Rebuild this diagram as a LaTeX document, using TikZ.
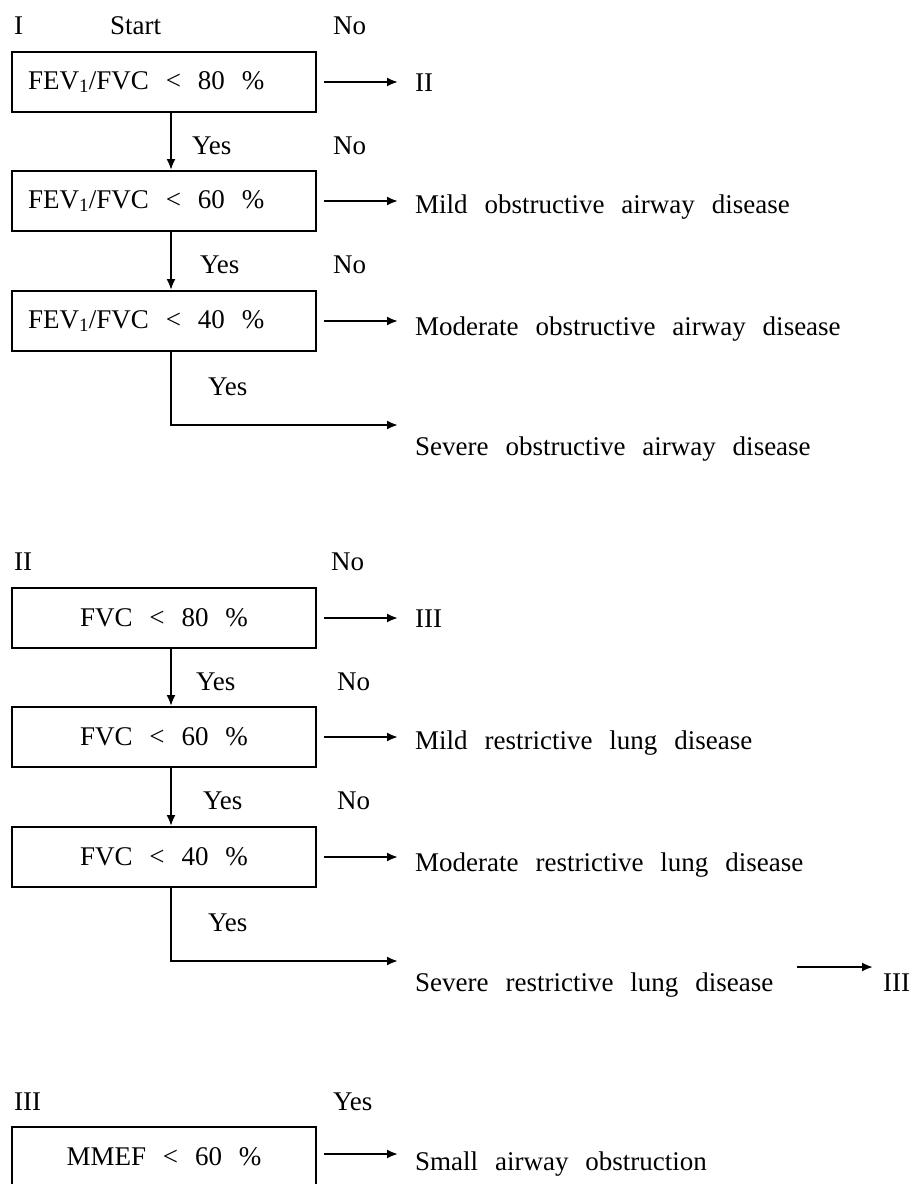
\documentclass[tikz,border=0pt]{standalone}
\usepackage{fontspec}
\setmainfont[WordSpace=2.5]{Liberation Serif}
\usetikzlibrary{arrows.meta}
\tikzset{
 testbox/.style={draw,line width=2pt,minimum width=304pt,minimum height=60pt,inner xsep=0pt},
 testboxl/.style={testbox,execute at begin node={\hbox to 272pt\bgroup},execute at end node={\hfil\egroup}},
 lbl/.style={anchor=base west,inner sep=0pt},
 arr/.style={-{Latex[length=11pt,width=9pt]},line width=2pt},
}
\begin{document}
\begin{tikzpicture}[x=1pt,y=-1pt,font=\fontsize{27}{32}\selectfont]
 \useasboundingbox (0,0) rectangle (911,1184);
 % I
 \begin{scope}
  \node[lbl] (hI) at (14,34) {I};
  \node[lbl] (start) at (110,34) {Start};
  \node[lbl] (noa) at (333,34) {No};
  \node[testboxl] (r80) at (164,82) {FEV\textsubscript{1}/FVC < 80 \%};
  \node[testboxl] (r60) at (164,201) {FEV\textsubscript{1}/FVC < 60 \%};
  \node[testboxl] (r40) at (164,321) {FEV\textsubscript{1}/FVC < 40 \%};
  \node[lbl] (toII) at (415,91) {II};
  \node[lbl] (mildo) at (415,213) {Mild obstructive airway disease};
  \node[lbl] (modo) at (415,335) {Moderate obstructive airway disease};
  \node[lbl] (sevo) at (415,455) {Severe obstructive airway disease};
  \node[lbl] (yesa) at (192,154) {Yes}; \node[lbl] (nob) at (333,154) {No};
  \node[lbl] (yesb) at (200,273) {Yes}; \node[lbl] (noc) at (333,273) {No};
  \node[lbl] (yesc) at (208,395) {Yes};
  \coordinate (ko) at (171,425);
  \draw[arr] ([xshift=7pt]r80.south) -- ([xshift=7pt]r60.north);
  \draw[arr] ([xshift=7pt]r60.south) -- ([xshift=7pt]r40.north);
  \draw[arr,shorten <=7pt,shorten >=17pt] (r80.east) -- (r80.east -| toII.west);
  \draw[arr,shorten <=7pt,shorten >=17pt] (r60.east) -- (r60.east -| mildo.west);
  \draw[arr,shorten <=7pt,shorten >=17pt] (r40.east) -- (r40.east -| modo.west);
  \draw[arr,shorten >=17pt] ([xshift=7pt]r40.south) -- (ko) -- (ko -| sevo.west);
 \end{scope}
 % II
 \begin{scope}[yshift=-536pt]
  \node[lbl] (hII) at (14,34) {II};
  \node[lbl] (nod) at (331,34) {No};
  \node[testbox] (v80) at (164,82) {FVC < 80 \%};
  \node[testbox] (v60) at (164,201) {FVC < 60 \%};
  \node[testbox] (v40) at (164,321) {FVC < 40 \%};
  \node[lbl] (toIII) at (415,91) {III};
  \node[lbl] (mildr) at (415,213) {Mild restrictive lung disease};
  \node[lbl] (modr) at (415,335) {Moderate restrictive lung disease};
  \node[lbl] (sevr) at (415,455) {Severe restrictive lung disease};
  \node[lbl] (nextIII) at (883,455) {III};
  \node[lbl] (yesd) at (196,154) {Yes}; \node[lbl] (noe) at (337,154) {No};
  \node[lbl] (yese) at (203,273) {Yes}; \node[lbl] (nof) at (337,273) {No};
  \node[lbl] (yesf) at (208,395) {Yes};
  \coordinate (kr) at (171,425);
  \coordinate (ks) at (797,431);
  \draw[arr] ([xshift=7pt]v80.south) -- ([xshift=7pt]v60.north);
  \draw[arr] ([xshift=7pt]v60.south) -- ([xshift=7pt]v40.north);
  \draw[arr,shorten <=7pt,shorten >=17pt] (v80.east) -- (v80.east -| toIII.west);
  \draw[arr,shorten <=7pt,shorten >=17pt] (v60.east) -- (v60.east -| mildr.west);
  \draw[arr,shorten <=7pt,shorten >=17pt] (v40.east) -- (v40.east -| modr.west);
  \draw[arr,shorten >=17pt] ([xshift=7pt]v40.south) -- (kr) -- (kr -| sevr.west);
  \draw[arr,shorten >=10pt] (ks) -- (ks -| nextIII.west);
 \end{scope}
 % III
 \begin{scope}[yshift=-1075pt]
  \node[lbl] (hIII) at (14,35) {III};
  \node[lbl] (yesg) at (333,35) {Yes};
  \node[testbox] (m60) at (164,82) {MMEF < 60 \%};
  \node[lbl] (small) at (415,95) {Small airway obstruction};
  \draw[arr,shorten <=7pt,shorten >=17pt] ([yshift=3pt]m60.east) -- ([yshift=3pt]m60.east -| small.west);
 \end{scope}
\end{tikzpicture}
\end{document}
